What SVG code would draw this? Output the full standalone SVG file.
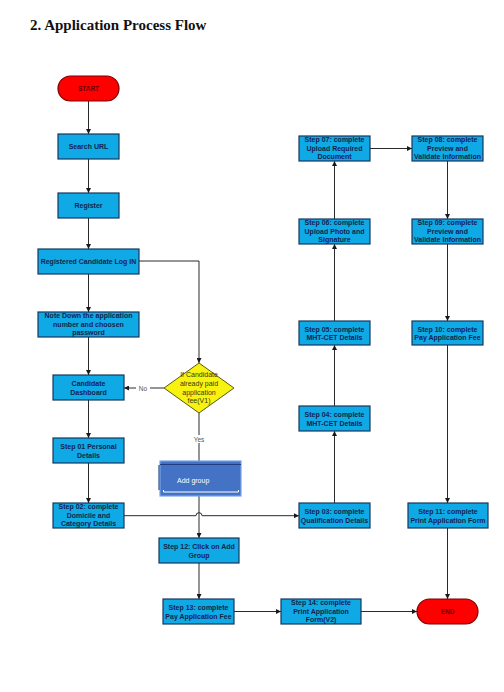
<svg xmlns="http://www.w3.org/2000/svg" width="504" height="692" viewBox="0 0 504 692">
<defs>
<marker id="arr" markerWidth="5" markerHeight="5" refX="5" refY="2.5" orient="auto" markerUnits="userSpaceOnUse">
<path d="M0,0 L5,2.5 L0,5 z" fill="#1a1a1a"/>
</marker>
</defs>
<style>
.box{fill:#0fa9e6;stroke:#17375e;stroke-width:1.2}
.term{fill:#ff0000;stroke:#7a0000;stroke-width:1.2}
.t{font-family:"Liberation Sans",Arial,sans-serif;font-size:7px;font-weight:bold;fill:#14244f;text-anchor:middle}
.tt{font-family:"Liberation Sans",Arial,sans-serif;font-size:6.5px;font-weight:bold;fill:#6a0000;text-anchor:middle}
.c{fill:none;stroke:#2a2a2a;stroke-width:1}
.lbl{font-family:"Liberation Sans",Arial,sans-serif;font-size:6.5px;fill:#555;text-anchor:middle}
.d{font-family:"Liberation Sans",Arial,sans-serif;font-size:7px;fill:#3a3a10;text-anchor:middle}
</style>
<rect width="504" height="692" fill="#ffffff"/>
<text x="30" y="30" font-family="Liberation Serif,'Times New Roman',serif" font-size="15" font-weight="bold" fill="#111">2.  Application Process Flow</text>

<g id="connectors">
<line class="c" x1="88.5" y1="101" x2="88.5" y2="134" marker-end="url(#arr)"/>
<line class="c" x1="88.5" y1="159" x2="88.5" y2="193" marker-end="url(#arr)"/>
<line class="c" x1="88.5" y1="218" x2="88.5" y2="249" marker-end="url(#arr)"/>
<line class="c" x1="88.5" y1="274" x2="88.5" y2="312" marker-end="url(#arr)"/>
<line class="c" x1="88.5" y1="337" x2="88.5" y2="375" marker-end="url(#arr)"/>
<line class="c" x1="88.5" y1="400" x2="88.5" y2="438" marker-end="url(#arr)"/>
<line class="c" x1="88.5" y1="463" x2="88.5" y2="503" marker-end="url(#arr)"/>
<polyline class="c" points="139,261 199,261 199,363" marker-end="url(#arr)"/>
<line class="c" x1="164" y1="388" x2="124" y2="388" marker-end="url(#arr)"/>
<line class="c" x1="199" y1="413" x2="199" y2="464"/>
<line class="c" x1="199" y1="496" x2="199" y2="538" marker-end="url(#arr)"/>
<path class="c" d="M124,515.7 L196,515.7 A3,3 0 0 1 202,515.7 L299,515.7" marker-end="url(#arr)"/>
<line class="c" x1="199" y1="563" x2="199" y2="599" marker-end="url(#arr)"/>
<line class="c" x1="234" y1="611.5" x2="281" y2="611.5" marker-end="url(#arr)"/>
<line class="c" x1="361" y1="611.5" x2="417" y2="611.5" marker-end="url(#arr)"/>
<line class="c" x1="334.5" y1="503" x2="334.5" y2="431" marker-end="url(#arr)"/>
<line class="c" x1="334.5" y1="406" x2="334.5" y2="345" marker-end="url(#arr)"/>
<line class="c" x1="334.5" y1="321" x2="334.5" y2="244" marker-end="url(#arr)"/>
<line class="c" x1="334.5" y1="219" x2="334.5" y2="161" marker-end="url(#arr)"/>
<line class="c" x1="370" y1="148.5" x2="412" y2="148.5" marker-end="url(#arr)"/>
<line class="c" x1="447.5" y1="161" x2="447.5" y2="219" marker-end="url(#arr)"/>
<line class="c" x1="447.5" y1="244" x2="447.5" y2="321" marker-end="url(#arr)"/>
<line class="c" x1="447.5" y1="345" x2="447.5" y2="503" marker-end="url(#arr)"/>
<line class="c" x1="447.5" y1="528" x2="447.5" y2="599" marker-end="url(#arr)"/>
<rect x="136" y="384" width="14" height="8" fill="#fff"/>
<text class="lbl" x="143" y="390.5">No</text>
<rect x="191" y="435" width="16" height="8" fill="#fff"/>
<text class="lbl" x="199" y="441.5">Yes</text>
</g>

<g id="start">
<rect class="term" x="58" y="76" width="61" height="25" rx="12.5"/>
<text class="tt" x="88.5" y="91">START</text>
</g>
<g id="search-url">
<rect class="box" x="58" y="134" width="61" height="25"/>
<text class="t" x="88.5" y="149">Search  URL</text>
</g>
<g id="register">
<rect class="box" x="58" y="193" width="61" height="25"/>
<text class="t" x="88.5" y="208">Register</text>
</g>
<g id="login">
<rect class="box" x="38" y="249" width="101" height="25"/>
<text class="t" x="88.5" y="264">Registered Candidate Log IN</text>
</g>
<g id="note-down">
<rect class="box" x="38" y="312" width="101" height="25"/>
<text class="t" x="88.5" y="318">Note Down the application</text>
<text class="t" x="88.5" y="326.5">number and choosen</text>
<text class="t" x="88.5" y="335">password</text>
</g>
<g id="dashboard">
<rect class="box" x="53" y="375" width="71" height="25"/>
<text class="t" x="88.5" y="386">Candidate</text>
<text class="t" x="88.5" y="394.5">Dashboard</text>
</g>
<g id="step01">
<rect class="box" x="53" y="438" width="71" height="25"/>
<text class="t" x="88.5" y="449">Step 01 Personal</text>
<text class="t" x="88.5" y="457.5">Details</text>
</g>
<g id="step02">
<rect class="box" x="53" y="503" width="71" height="25"/>
<text class="t" x="88.5" y="509">Step 02: complete</text>
<text class="t" x="88.5" y="517.5">Domicile and</text>
<text class="t" x="88.5" y="526">Category Details</text>
</g>
<g id="decision">
<polygon points="199,363 234,388 199,413 164,388" fill="#f7f20f" stroke="#5a5a10" stroke-width="1"/>
<text class="d" x="199" y="377">If Candidate</text>
<text class="d" x="199" y="386">already paid</text>
<text class="d" x="199" y="394.5">application</text>
<text class="d" x="199" y="403">fee(V1)</text>
</g>
<g id="add-group">
<rect x="160" y="461" width="81" height="35" fill="#4472c4" stroke="#7aa4ea" stroke-width="1.2"/>
<line x1="160" y1="464.5" x2="241" y2="464.5" stroke="#1f3d80" stroke-width="1"/>
<line x1="159" y1="465" x2="159" y2="490" stroke="#2a4a8a" stroke-width="1.2"/>
<polyline points="163.5,490 163.5,492 238.5,492 238.5,490" fill="none" stroke="#ffffff" stroke-width="1"/>
<text x="177" y="482.5" font-family="Liberation Sans,Arial,sans-serif" font-size="7" fill="#ffffff">Add group</text>
</g>
<g id="step12">
<rect class="box" x="159" y="538" width="80" height="25"/>
<text class="t" x="199" y="549">Step 12:  Click on Add</text>
<text class="t" x="199" y="557.5">Group</text>
</g>
<g id="step13">
<rect class="box" x="163" y="599" width="71" height="25"/>
<text class="t" x="198.5" y="610">Step 13:  complete</text>
<text class="t" x="198.5" y="618.5">Pay Application Fee</text>
</g>
<g id="step14">
<rect class="box" x="281" y="599" width="80" height="25"/>
<text class="t" x="321" y="605">Step 14:  complete</text>
<text class="t" x="321" y="613.5">Print Application</text>
<text class="t" x="321" y="622">Form(V2)</text>
</g>
<g id="end">
<rect class="term" x="417" y="599" width="61" height="25" rx="12.5"/>
<text class="tt" x="447.5" y="614">END</text>
</g>
<g id="step03">
<rect class="box" x="299" y="503" width="71" height="25"/>
<text class="t" x="334.5" y="514">Step 03: complete</text>
<text class="t" x="334.5" y="522.5">Qualification Details</text>
</g>
<g id="step04">
<rect class="box" x="299" y="406" width="71" height="25"/>
<text class="t" x="334.5" y="417">Step 04: complete</text>
<text class="t" x="334.5" y="425.5">MHT-CET Details</text>
</g>
<g id="step05">
<rect class="box" x="299" y="321" width="71" height="24"/>
<text class="t" x="334.5" y="331.5">Step 05:  complete</text>
<text class="t" x="334.5" y="340">MHT-CET Details</text>
</g>
<g id="step06">
<rect class="box" x="299" y="219" width="71" height="25"/>
<text class="t" x="334.5" y="225">Step 06:  complete</text>
<text class="t" x="334.5" y="233.5">Upload Photo and</text>
<text class="t" x="334.5" y="242">Signature</text>
</g>
<g id="step07">
<rect class="box" x="299" y="136" width="71" height="25"/>
<text class="t" x="334.5" y="142">Step 07:  complete</text>
<text class="t" x="334.5" y="150.5">Upload Required</text>
<text class="t" x="334.5" y="159">Document</text>
</g>
<g id="step08">
<rect class="box" x="412" y="136" width="71" height="25"/>
<text class="t" x="447.5" y="142">Step 08:  complete</text>
<text class="t" x="447.5" y="150.5">Preview and</text>
<text class="t" x="447.5" y="159">Validate Information</text>
</g>
<g id="step09">
<rect class="box" x="412" y="219" width="71" height="25"/>
<text class="t" x="447.5" y="225">Step 09:  complete</text>
<text class="t" x="447.5" y="233.5">Preview and</text>
<text class="t" x="447.5" y="242">Validate Information</text>
</g>
<g id="step10">
<rect class="box" x="412" y="321" width="71" height="24"/>
<text class="t" x="447.5" y="331.5">Step 10:  complete</text>
<text class="t" x="447.5" y="340">Pay Application Fee</text>
</g>
<g id="step11">
<rect class="box" x="408" y="503" width="80" height="25"/>
<text class="t" x="448" y="514">Step 11:  complete</text>
<text class="t" x="448" y="522.5">Print Application Form</text>
</g>
</svg>
